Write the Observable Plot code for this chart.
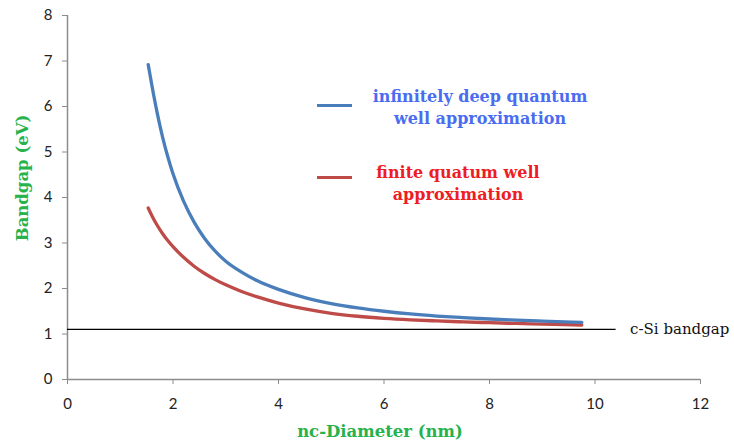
<!DOCTYPE html>
<html><head><meta charset="utf-8">
<script src="https://cdn.jsdelivr.net/npm/d3@7"></script>
<script src="https://cdn.jsdelivr.net/npm/@observablehq/plot@0.6"></script>
<style>
body{margin:0;background:#fff}
#wrap{position:relative;width:734px;height:443px;overflow:hidden}
.leg{position:absolute;font-family:"DejaVu Serif",serif;font-weight:bold;font-size:16px;text-align:center;line-height:22px;white-space:nowrap;transform:translateX(-50%)}
.sw{position:absolute;height:3px;width:35px}
.ttl{position:absolute;font-family:"DejaVu Serif",serif;font-weight:bold;font-size:16.5px;color:#27b24c;white-space:nowrap}
</style></head><body><div id="wrap"></div>
<script>
// nc-Diameter (nm) and bandgap (eV)
const diameterInfinite = [1.53,1.6,1.7,1.8,1.9,2.0,2.2,2.4,2.6,2.8,3.0,3.3,3.6,4.0,4.5,5.0,5.5,6.0,6.5,7.0,7.5,8.0,8.5,9.0,9.75];
const bandgapInfinite  = [6.92,6.46,5.86,5.34,4.9,4.52,3.92,3.46,3.1,2.82,2.6,2.36,2.17,1.98,1.8,1.67,1.575,1.5,1.44,1.395,1.36,1.33,1.305,1.283,1.255];
const diameterFinite = [1.53,1.6,1.7,1.8,1.9,2.0,2.2,2.4,2.6,2.8,3.0,3.3,3.6,4.0,4.5,5.0,5.5,6.0,6.5,7.0,7.5,8.0,8.5,9.0,9.75];
const bandgapFinite  = [3.77,3.6,3.39,3.21,3.055,2.92,2.685,2.49,2.33,2.195,2.08,1.935,1.815,1.68,1.55,1.455,1.39,1.345,1.312,1.287,1.266,1.248,1.232,1.218,1.198];
const cSiBandgap = [1.1];
const cSiRange = [0, 10.4];
const xTicks = [0,2,4,6,8,10,12];
const yTicks = [0,1,2,3,4,5,6,7,8];
const seriesNames = ["infinitely deep quantum<br>well approximation", "finite quatum well<br>approximation"];
const cSiLabel = "c-Si bandgap";
const xTitle = "nc-Diameter (nm)";
const yTitle = "Bandgap (eV)";

const infData = diameterInfinite.map((d,i)=>({d, e: bandgapInfinite[i]}));
const finData = diameterFinite.map((d,i)=>({d, e: bandgapFinite[i]}));

const plot = Plot.plot({
  width: 734, height: 443,
  marginLeft: 67, marginRight: 34, marginTop: 15, marginBottom: 64,
  x: {domain: [0, 12]},
  y: {domain: [0, 8]},
  style: {fontFamily: "Lato", fontSize: "15px", background: "white", overflow: "visible"},
  marks: [
    Plot.axisY({ticks: yTicks, tickSize: 5, tickPadding: 10, label: null, stroke: "#8c8c8c", fill: "#222"}),
    Plot.axisX({ticks: xTicks, tickSize: 5, tickPadding: 14, label: null, stroke: "#8c8c8c", fill: "#222"}),
    Plot.ruleX([0], {stroke: "#8c8c8c", strokeWidth: 1.5}),
    Plot.ruleY([0], {stroke: "#8c8c8c", strokeWidth: 1.5}),
    Plot.ruleY(cSiBandgap, {y: d=>d, x1: cSiRange[0], x2: cSiRange[1], stroke: "#000", strokeWidth: 1.3}),
    Plot.text(cSiBandgap, {y: d=>d, x: cSiRange[1], text: ()=>cSiLabel, textAnchor: "start", dx: 14, fontFamily: "DejaVu Serif", fontSize: 15, fill: "#111"}),
    Plot.line(finData, {x: "d", y: "e", stroke: "#be4b48", strokeWidth: 3.3, curve: "monotone-x"}),
    Plot.line(infData, {x: "d", y: "e", stroke: "#4a7ebb", strokeWidth: 3.3, curve: "monotone-x"})
  ]
});
const wrap = document.getElementById("wrap");
wrap.appendChild(plot);

function add(html){ const t=document.createElement("div"); t.innerHTML=html; wrap.appendChild(t.firstElementChild); }
add(`<div class="sw" style="left:317px;top:104px;background:#4a7ebb"></div>`);
add(`<div class="leg" style="left:480px;top:86px;color:#4a6cf0">${seriesNames[0]}</div>`);
add(`<div class="sw" style="left:317px;top:176px;background:#be4b48"></div>`);
add(`<div class="leg" style="left:458px;top:162px;color:#ee1c24">${seriesNames[1]}</div>`);
add(`<div class="ttl" style="left:380px;top:431px;transform:translate(-50%,-50%)">${xTitle}</div>`);
add(`<div class="ttl" style="left:22px;top:178px;transform:translate(-50%,-50%) rotate(-90deg)">${yTitle}</div>`);
</script>
</body></html>
